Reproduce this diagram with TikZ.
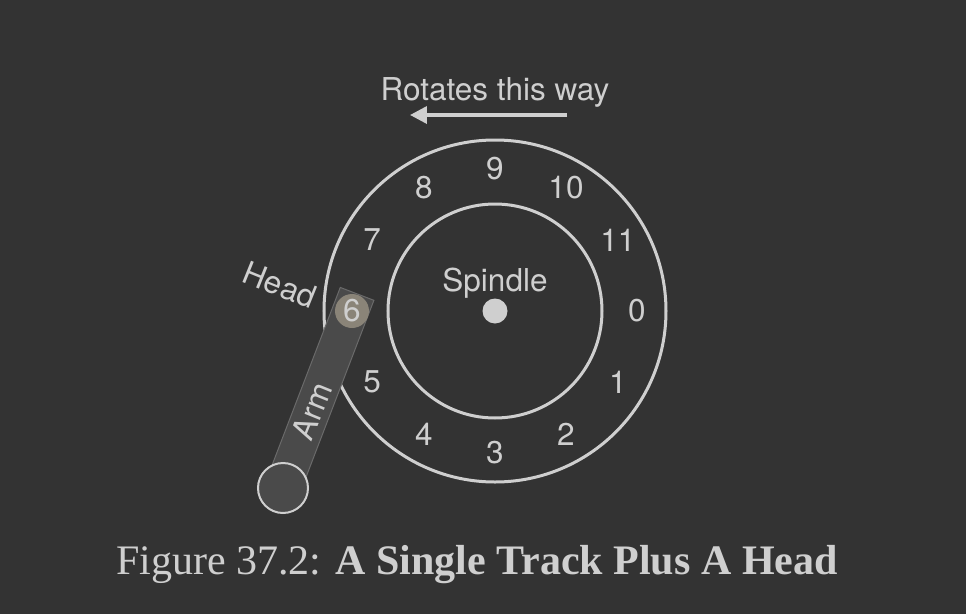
\documentclass[tikz,border=0pt]{standalone}
\usepackage{fontspec}
\setmainfont{Liberation Serif}
\setsansfont{TeX Gyre Heros}
\usepackage{tikz}
\usetikzlibrary{arrows.meta}
\definecolor{bggray}{HTML}{333333}
\definecolor{fggray}{HTML}{CFCFCF}
\definecolor{armgray}{HTML}{4A4A4A}
\definecolor{armedge}{HTML}{6A6A6A}
\definecolor{headbrown}{HTML}{8A8478}

\begin{document}
\begin{tikzpicture}[
  x=1pt, y=1pt,
  every node/.style={text=fggray,font=\sffamily\fontsize{31.5}{36}\selectfont},
  ring/.style={draw=fggray,line width=3pt}
]
  \fill[bggray] (-495,-303) rectangle (471,311);
  \useasboundingbox (-495,-303) rectangle (471,311);

  \node[circle,fill=fggray,minimum size=25pt,inner sep=0pt] (spindle) at (0,0) {};
  \draw[ring] (spindle.center) circle (171);
  \draw[ring] (spindle.center) circle (107);
  \node (spindlelabel) at (0,28) {Spindle};

  \node (t0)  at (0:142)    {0};
  \node (t1)  at (-30:142)  {1};
  \node (t2)  at (-60:142)  {2};
  \node (t3)  at (-90:142)  {3};
  \node (t4)  at (-120:142) {4};
  \node (t5)  at (-150:142) {5};
  \node (t7)  at (150:142)  {7};
  \node (t8)  at (120:142)  {8};
  \node (t9)  at (90:142)   {9};
  \node (t10) at (60:142)   {10};
  \node (t11) at (30:142)   {11};

  \coordinate (rotstart) at (72,196);
  \coordinate (rotend)   at (-85,196);
  \draw[fggray,line width=3.5pt,-{Triangle[length=17pt,width=17pt]}] (rotstart) -- (rotend);
  \node (rotlabel) at (0,219) {Rotates this way};

  \node[rectangle,draw=armedge,fill=armgray,line width=1pt,minimum width=207pt,
        minimum height=36pt,inner sep=0pt,rotate=69] (arm) at (-175,-79.5) {};
  \node[circle,fill=headbrown,minimum size=34pt,inner sep=0pt] (t6) at (-143,0) {6};
  \node[circle,draw=fggray,fill=armgray,line width=2pt,minimum size=50pt,inner sep=0pt] (base) at (-212,-177) {};

  \node[rotate=-22] (headlabel) at (-215,26)   {Head};
  \node[rotate=68]  (armlabel)  at (-183,-100) {Arm};

  \node[font=\rmfamily\fontsize{42}{48}\selectfont] (caption) at (-18,-254)
       {Figure 37.2: \textbf{A Single Track Plus A Head}};
\end{tikzpicture}
\end{document}
